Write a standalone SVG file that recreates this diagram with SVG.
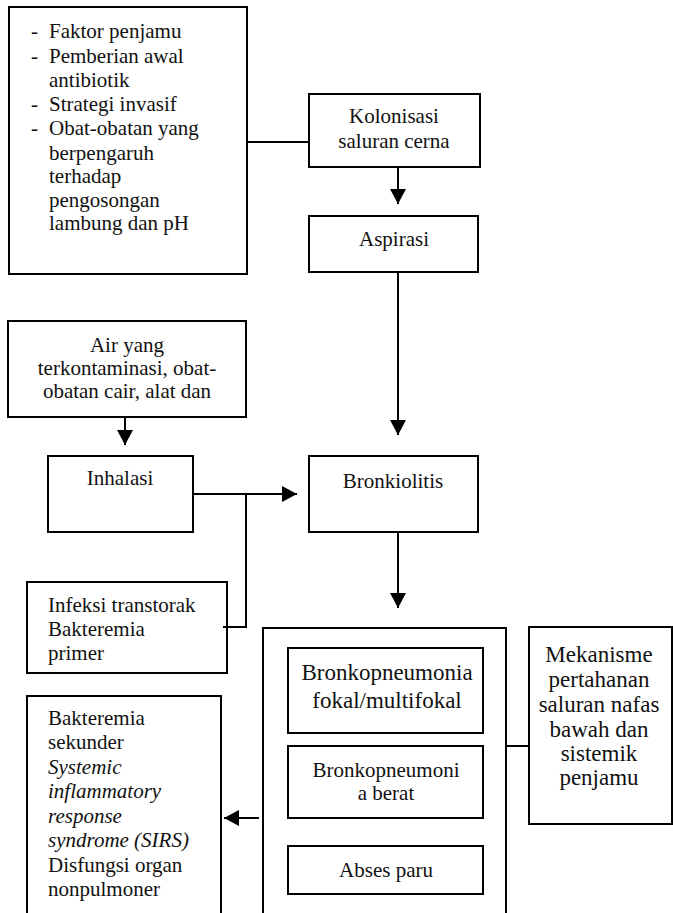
<svg xmlns="http://www.w3.org/2000/svg" width="673" height="913" viewBox="0 0 673 913" font-family="'Liberation Serif', 'Times New Roman', 'DejaVu Serif', serif">
<style>
.box{fill:none;stroke:#000;stroke-width:2}
.ln{fill:none;stroke:#000;stroke-width:2}
text{font-family:'Liberation Serif','Times New Roman','DejaVu Serif',serif;font-size:21px;fill:#111}
.c{text-anchor:middle}
.big{font-size:23px}
.i{font-style:italic}
</style>
<defs>
<marker id="ah" markerUnits="userSpaceOnUse" markerWidth="16" markerHeight="16" refX="15" refY="8" orient="auto">
<path d="M0,0 L15,8 L0,16 z" fill="#000"/>
</marker>
</defs>
<g id="connectors">
<line class="ln" x1="247" y1="142" x2="309" y2="142"/>
<line class="ln" x1="398" y1="167" x2="398" y2="204" marker-end="url(#ah)"/>
<line class="ln" x1="398" y1="272" x2="398" y2="435" marker-end="url(#ah)"/>
<line class="ln" x1="125" y1="417" x2="125" y2="445" marker-end="url(#ah)"/>
<line class="ln" x1="193" y1="494" x2="297" y2="494" marker-end="url(#ah)"/>
<polyline class="ln" points="223,627 246,627 246,494"/>
<line class="ln" x1="398" y1="532" x2="398" y2="608" marker-end="url(#ah)"/>
<line class="ln" x1="506" y1="746" x2="529" y2="746"/>
<line class="ln" x1="259" y1="818" x2="224" y2="818" marker-end="url(#ah)"/>
</g>
<g id="faktor">
<rect class="box" x="9" y="7" width="238" height="267"/>
<text x="31" y="38">-</text><text x="49" y="38">Faktor penjamu</text>
<text x="31" y="63">-</text><text x="49" y="63">Pemberian awal</text>
<text x="49" y="87">antibiotik</text>
<text x="31" y="111">-</text><text x="49" y="111">Strategi invasif</text>
<text x="31" y="135">-</text><text x="49" y="135">Obat-obatan yang</text>
<text x="49" y="160">berpengaruh</text>
<text x="49" y="183">terhadap</text>
<text x="49" y="207">pengosongan</text>
<text x="49" y="230">lambung dan pH</text>
</g>
<g id="kolonisasi">
<rect class="box" x="309" y="94" width="171" height="73"/>
<text class="c" x="394" y="123">Kolonisasi</text>
<text class="c" x="394" y="148">saluran cerna</text>
</g>
<g id="aspirasi">
<rect class="box" x="309" y="216" width="169" height="56"/>
<text class="c" x="394" y="246">Aspirasi</text>
</g>
<g id="air">
<rect class="box" x="8" y="321" width="238" height="96"/>
<text class="c" x="127" y="352">Air yang</text>
<text class="c" x="127" y="375">terkontaminasi, obat-</text>
<text class="c" x="127" y="398">obatan cair, alat dan</text>
</g>
<g id="inhalasi">
<rect class="box" x="48" y="456" width="145" height="76"/>
<text class="c" x="120" y="485">Inhalasi</text>
</g>
<g id="bronkiolitis">
<rect class="box" x="309" y="456" width="169" height="76"/>
<text class="c" x="393" y="488">Bronkiolitis</text>
</g>
<g id="infeksi">
<rect class="box" x="27" y="582" width="200" height="91"/>
<text x="48" y="612">Infeksi transtorak</text>
<text x="48" y="636">Bakteremia</text>
<text x="48" y="660">primer</text>
</g>
<g id="paru">
<path class="box" d="M263,913 V628 H506 V913"/>
</g>
<g id="fokal">
<rect class="box" x="288" y="648" width="195" height="85"/>
<text class="c big" x="387" y="680">Bronkopneumonia</text>
<text class="c big" x="387" y="708">fokal/multifokal</text>
</g>
<g id="berat">
<rect class="box" x="288" y="746" width="195" height="72"/>
<text class="c" x="386" y="777">Bronkopneumoni</text>
<text class="c" x="386" y="800">a berat</text>
</g>
<g id="abses">
<rect class="box" x="288" y="846" width="195" height="48"/>
<text class="c" x="386" y="877">Abses paru</text>
</g>
<g id="mekanisme">
<rect class="box" x="529" y="627" width="143" height="197"/>
<text class="c big" x="599" y="662">Mekanisme</text>
<text class="c big" x="599" y="687">pertahanan</text>
<text class="c big" x="599" y="712">saluran nafas</text>
<text class="c big" x="599" y="737">bawah dan</text>
<text class="c big" x="599" y="761">sistemik</text>
<text class="c big" x="599" y="785">penjamu</text>
</g>
<g id="sekunder">
<path class="box" d="M27,913 V696 H221 V913"/>
<text x="48" y="725">Bakteremia</text>
<text x="48" y="749">sekunder</text>
<text class="i" x="48" y="774">Systemic</text>
<text class="i" x="48" y="798">inflammatory</text>
<text class="i" x="48" y="823">response</text>
<text class="i" x="48" y="847">syndrome (SIRS)</text>
<text x="48" y="872">Disfungsi organ</text>
<text x="48" y="896">nonpulmoner</text>
</g>
</svg>
